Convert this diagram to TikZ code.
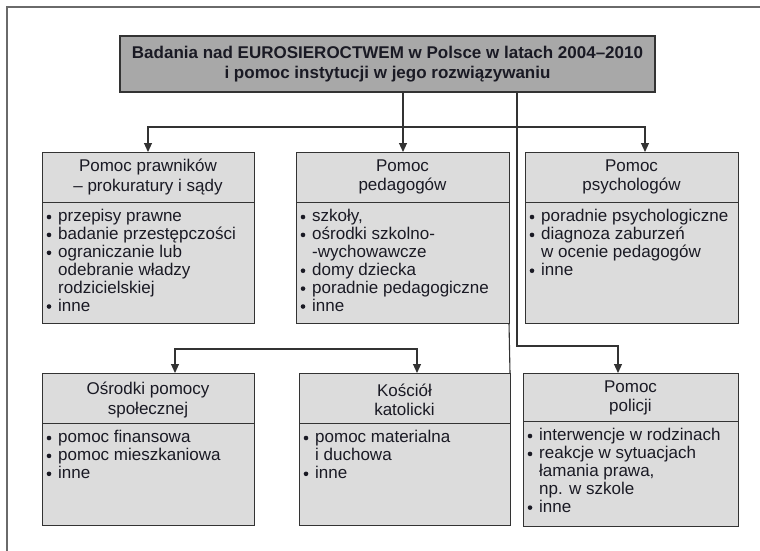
\documentclass[tikz,border=0pt]{standalone}
\usepackage{fontspec}
\setmainfont{Liberation Sans}
\usetikzlibrary{arrows.meta}
\definecolor{titlegray}{HTML}{A8A8A8}
\definecolor{boxgray}{HTML}{DCDCDC}
\definecolor{linegray}{HTML}{333333}
\definecolor{framegray}{HTML}{6A6A6A}
\definecolor{txt}{HTML}{1A1A24}
\newcommand\bu{\makebox[13pt][l]{\hspace*{1.5pt}\raisebox{2.2pt}{\tikz\fill[txt] (0,0) circle (2.3pt);}}}
\newcommand\ind{\hspace*{13pt}}
\begin{document}
\begin{tikzpicture}[x=1pt,y=-1pt,
  box/.style={draw=linegray, line width=1pt, fill=boxgray, inner sep=0pt, outer sep=0pt, anchor=north west},
  titlebox/.style={draw=linegray, line width=1.2pt, fill=titlegray, inner sep=0pt, outer sep=0pt, minimum width=535pt, minimum height=56pt, font=\fontsize{17}{20}\selectfont\bfseries, align=center, text=txt},
  hdr/.style={align=center, font=\fontsize{17}{19.5}\selectfont, text=txt, inner sep=0pt},
  items/.style={align=left, anchor=north west, font=\fontsize{17}{17.9}\selectfont, text=txt, inner sep=0pt},
  conn/.style={draw=linegray, line width=1.1pt},
  tip/.tip={Triangle[length=9pt,width=8pt]},
  arr/.style={conn, -tip},
  arr2/.style={conn, tip-tip},
  divline/.style={draw=linegray, line width=1pt}
]
\useasboundingbox (0,0) rectangle (760,551);
\fill[white] (0,0) rectangle (760,551);
\draw[framegray, line width=2pt] (7,570) -- (7,7) -- (780,7);

% title
\node[titlebox] (title) at (387.5,64) {Badania nad EUROSIEROCTWEM w Polsce w latach 2004–2010\\i pomoc instytucji w jego rozwiązywaniu};

% boxes
\node[box, minimum width=212pt, minimum height=171pt] (law) at (42,152) {};
\node[box, minimum width=213pt, minimum height=171pt] (ped) at (296,152) {};
\node[box, minimum width=213pt, minimum height=171pt] (psy) at (525,152) {};
\node[box, minimum width=212pt, minimum height=152pt] (soc) at (42,373) {};
\node[box, minimum width=211pt, minimum height=152pt] (kos) at (299,373) {};
\node[box, minimum width=215pt, minimum height=153pt] (pol) at (523,373) {};

% dividers
\draw[divline] (42,202) -- (254,202);
\draw[divline] (296,202) -- (509,202);
\draw[divline] (525,202) -- (738,202);
\draw[divline] (42,423) -- (254,423);
\draw[divline] (299,423) -- (510,423);
\draw[divline] (523,421) -- (738,421);

% connectors
\coordinate (hL) at (148,127);
\coordinate (hR) at (645,127);
\coordinate (hM) at (403,127);
\draw[arr2] (hL |- law.north) -- (hL) -- (hR) -- (hR |- psy.north);
\draw[arr] (title.south -| hM) -- (hM |- ped.north);
\coordinate (vR) at (517,346);
\coordinate (pR) at (618,346);
\draw[arr] (title.south -| vR) -- (vR) -- (pR) -- (pR |- pol.north);
\draw[conn] (ped.south east) -- (kos.north east);
\coordinate (bL) at (175,349);
\coordinate (bR) at (417,349);
\draw[arr2] (bL |- soc.north) -- (bL) -- (bR) -- (bR |- kos.north);

% headers
\node[hdr] (lawh) at (148,177) {Pomoc prawników\\– prokuratury i sądy};
\node[hdr] (pedh) at (402.5,177) {Pomoc\\pedagogów};
\node[hdr] (psyh) at (631.5,177) {Pomoc\\psychologów};
\node[hdr] (soch) at (148,400) {Ośrodki pomocy\\społecznej};
\node[hdr] (kosh) at (404.5,400) {Kościół\\katolicki};
\node[hdr] (polh) at (630.5,398) {Pomoc\\policji};

% items
\node[items] (lawi) at (45,209) {\bu przepisy prawne\\ \bu badanie przestępczości\\ \bu ograniczanie lub\\ \ind odebranie władzy\\ \ind rodzicielskiej\\ \bu inne};
\node[items] (pedi) at (299,209) {\bu szkoły,\\ \bu ośrodki szkolno-\\ \ind -wychowawcze\\ \bu domy dziecka\\ \bu poradnie pedagogiczne\\ \bu inne};
\node[items] (psyi) at (528,209) {\bu poradnie psychologiczne\\ \bu diagnoza zaburzeń\\ \ind w ocenie pedagogów\\ \bu inne};
\node[items] (soci) at (45,430) {\bu pomoc finansowa\\ \bu pomoc mieszkaniowa\\ \bu inne};
\node[items] (kosi) at (302,430) {\bu pomoc materialna\\ \ind i duchowa\\ \bu inne};
\node[items] (poli) at (526,428) {\bu interwencje w rodzinach\\ \bu reakcje w sytuacjach\\ \ind łamania prawa,\\ \ind np. w szkole\\ \bu inne};
\end{tikzpicture}
\end{document}
